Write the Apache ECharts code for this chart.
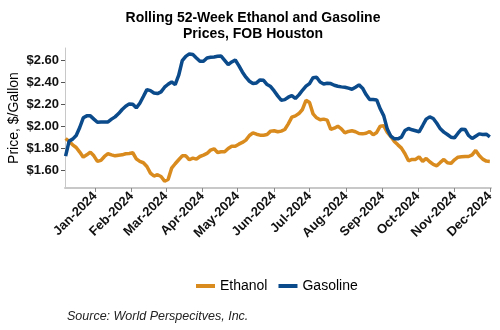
<!DOCTYPE html>
<html>
<head>
<meta charset="utf-8">
<script src="https://cdn.jsdelivr.net/npm/echarts@6/dist/echarts.min.js"></script>
<style>html,body{margin:0;padding:0;background:#fff}#c{width:500px;height:330px}</style>
</head>
<body>
<div id="c"></div>
<script>
var dates = ['2023-12-07','2023-12-10','2023-12-13','2023-12-16','2023-12-19','2023-12-22','2023-12-25','2023-12-28','2023-12-31',
'2024-01-03','2024-01-06','2024-01-09','2024-01-12','2024-01-15','2024-01-18','2024-01-21','2024-01-24','2024-01-27','2024-01-30',
'2024-02-02','2024-02-05','2024-02-08','2024-02-11','2024-02-14','2024-02-17','2024-02-20','2024-02-23','2024-02-26','2024-02-29',
'2024-03-03','2024-03-06','2024-03-09','2024-03-12','2024-03-15','2024-03-18','2024-03-21','2024-03-24','2024-03-27','2024-03-30',
'2024-04-02','2024-04-05','2024-04-08','2024-04-11','2024-04-14','2024-04-17','2024-04-20','2024-04-23','2024-04-26','2024-04-29',
'2024-05-02','2024-05-05','2024-05-08','2024-05-11','2024-05-14','2024-05-17','2024-05-20','2024-05-23','2024-05-26','2024-05-29',
'2024-06-01','2024-06-04','2024-06-07','2024-06-10','2024-06-13','2024-06-16','2024-06-19','2024-06-22','2024-06-25','2024-06-28',
'2024-07-01','2024-07-04','2024-07-07','2024-07-10','2024-07-13','2024-07-16','2024-07-19','2024-07-22','2024-07-25','2024-07-28','2024-07-31',
'2024-08-03','2024-08-06','2024-08-09','2024-08-12','2024-08-15','2024-08-18','2024-08-21','2024-08-24','2024-08-27','2024-08-30',
'2024-09-02','2024-09-05','2024-09-08','2024-09-11','2024-09-14','2024-09-17','2024-09-20','2024-09-23','2024-09-26','2024-09-29',
'2024-10-02','2024-10-05','2024-10-08','2024-10-11','2024-10-14','2024-10-17','2024-10-20','2024-10-23','2024-10-26','2024-10-29',
'2024-11-01','2024-11-04','2024-11-07','2024-11-10','2024-11-13','2024-11-16','2024-11-19','2024-11-22','2024-11-25','2024-11-28',
'2024-12-01'];

var gasoline = [1.730,1.867,1.885,1.918,1.991,2.079,2.097,2.097,2.067,
2.039,2.042,2.042,2.042,2.067,2.088,2.118,2.155,2.185,2.206,
2.203,2.170,2.212,2.273,2.336,2.327,2.306,2.300,2.315,2.358,
2.385,2.406,2.382,2.467,2.600,2.639,2.661,2.655,2.624,2.594,
2.594,2.624,2.630,2.633,2.639,2.642,2.603,2.564,2.588,2.606,
2.555,2.497,2.449,2.412,2.391,2.397,2.424,2.421,2.382,2.364,
2.324,2.279,2.239,2.245,2.267,2.282,2.255,2.288,2.330,2.367,
2.391,2.445,2.449,2.406,2.388,2.394,2.391,2.376,2.367,2.361,2.358,
2.349,2.339,2.358,2.379,2.349,2.291,2.245,2.245,2.242,2.161,
2.097,1.976,1.912,1.888,1.888,1.903,1.964,1.982,1.970,1.961,
1.952,2.009,2.067,2.088,2.073,2.030,1.979,1.949,1.927,1.903,
1.897,1.939,1.976,1.973,1.918,1.891,1.912,1.933,1.927,1.930,
1.906];

var ethanol = [1.891,1.864,1.833,1.809,1.767,1.721,1.742,1.767,1.733,
1.682,1.691,1.727,1.752,1.742,1.733,1.739,1.742,1.752,1.755,
1.761,1.706,1.682,1.670,1.636,1.576,1.549,1.561,1.545,1.503,
1.518,1.621,1.661,1.697,1.733,1.733,1.697,1.712,1.703,1.727,
1.739,1.755,1.785,1.797,1.764,1.770,1.770,1.800,1.821,1.821,
1.839,1.855,1.876,1.918,1.942,1.930,1.921,1.921,1.927,1.958,
1.961,1.952,1.958,1.973,2.024,2.085,2.097,2.118,2.155,2.239,
2.218,2.115,2.079,2.061,2.067,2.058,1.973,1.985,2.003,1.979,1.942,
1.955,1.961,1.952,1.936,1.933,1.939,1.955,1.924,1.946,2.003,
2.006,1.946,1.909,1.864,1.833,1.803,1.752,1.688,1.700,1.700,
1.724,1.682,1.709,1.679,1.655,1.642,1.673,1.700,1.670,1.664,
1.697,1.721,1.724,1.727,1.727,1.742,1.782,1.736,1.703,1.685,
1.682];

var monthTicks = ['2024-01-01','2024-02-01','2024-03-01','2024-04-01','2024-05-01','2024-06-01',
'2024-07-01','2024-08-01','2024-09-01','2024-10-01','2024-11-01','2024-12-01'];
var priceTicks = [1.60, 1.80, 2.00, 2.20, 2.40, 2.60];
var monthNames = ['Jan','Feb','Mar','Apr','May','Jun','Jul','Aug','Sep','Oct','Nov','Dec'];

function ts(s) { var p = s.split('-'); return Date.UTC(+p[0], +p[1] - 1, +p[2]); }

var font = '"Liberation Sans", Arial, sans-serif';
var chart = echarts.init(document.getElementById('c'));
chart.setOption({
  animation: false,
  title: {
    text: 'Rolling 52-Week Ethanol and Gasoline\nPrices, FOB Houston',
    left: 248, top: 5, textAlign: 'center',
    textStyle: { fontFamily: font, fontSize: 14, fontWeight: 'bold', color: '#000', lineHeight: 16 }
  },
  legend: {
    left: 191, top: 274, icon: 'rect', itemWidth: 19, itemHeight: 4, itemGap: 11, itemTextGap: 10,
    textStyle: { fontFamily: font, fontSize: 14, color: '#000' },
    data: ['Ethanol', 'Gasoline']
  },
  grid: { left: 65, right: 9, top: 48, bottom: 142, containLabel: false, outerBoundsMode: 'none' },
  xAxis: {
    type: 'value',
    min: ts('2023-12-06') + 12 * 3600 * 1000,
    max: ts('2024-12-02'),
    axisLine: { lineStyle: { color: '#c8c8c8', width: 2 } },
    axisTick: { show: true, length: 4, lineStyle: { color: '#888', width: 1 }, customValues: monthTicks.map(ts) },
    axisLabel: {
      customValues: monthTicks.map(ts), rotate: 45, margin: 6,
      fontFamily: font, fontSize: 13, fontWeight: 'bold', color: '#111',
      formatter: function (v) { var d = new Date(v); return monthNames[d.getUTCMonth()] + '-' + d.getUTCFullYear(); }
    },
    splitLine: { show: false }
  },
  yAxis: {
    type: 'value', min: 1.44, max: 2.715,
    name: 'Price, $/Gallon', nameLocation: 'middle', nameGap: 44, nameRotate: 90, nameMoveOverlap: false,
    nameTextStyle: { fontFamily: font, fontSize: 14, color: '#000' },
    axisLine: { show: true, lineStyle: { color: '#c8c8c8', width: 1 } },
    axisTick: { show: true, length: 4, lineStyle: { color: '#555' }, customValues: priceTicks },
    axisLabel: {
      customValues: priceTicks, margin: 6,
      fontFamily: font, fontSize: 13, fontWeight: 'bold', color: '#111',
      formatter: function (v) { return '$' + v.toFixed(2); }
    },
    splitLine: { show: false }
  },
  graphic: [{
    type: 'text', left: 67, top: 310,
    style: { text: 'Source: World Perspecitves, Inc.', fontFamily: font, fontSize: 12.5, fontStyle: 'italic', fill: '#222' }
  }],
  series: [
    { name: 'Ethanol', type: 'line', showSymbol: false, symbol: 'none', lineStyle: { color: '#D98B1E', width: 3.5 }, itemStyle: { color: '#D98B1E' },
      data: dates.map(function (d, i) { return [ts(d), ethanol[i]]; }) },
    { name: 'Gasoline', type: 'line', showSymbol: false, symbol: 'none', lineStyle: { color: '#0B4A8B', width: 3.5 }, itemStyle: { color: '#0B4A8B' },
      data: dates.map(function (d, i) { return [ts(d), gasoline[i]]; }) }
  ]
});
</script>
</body>
</html>
